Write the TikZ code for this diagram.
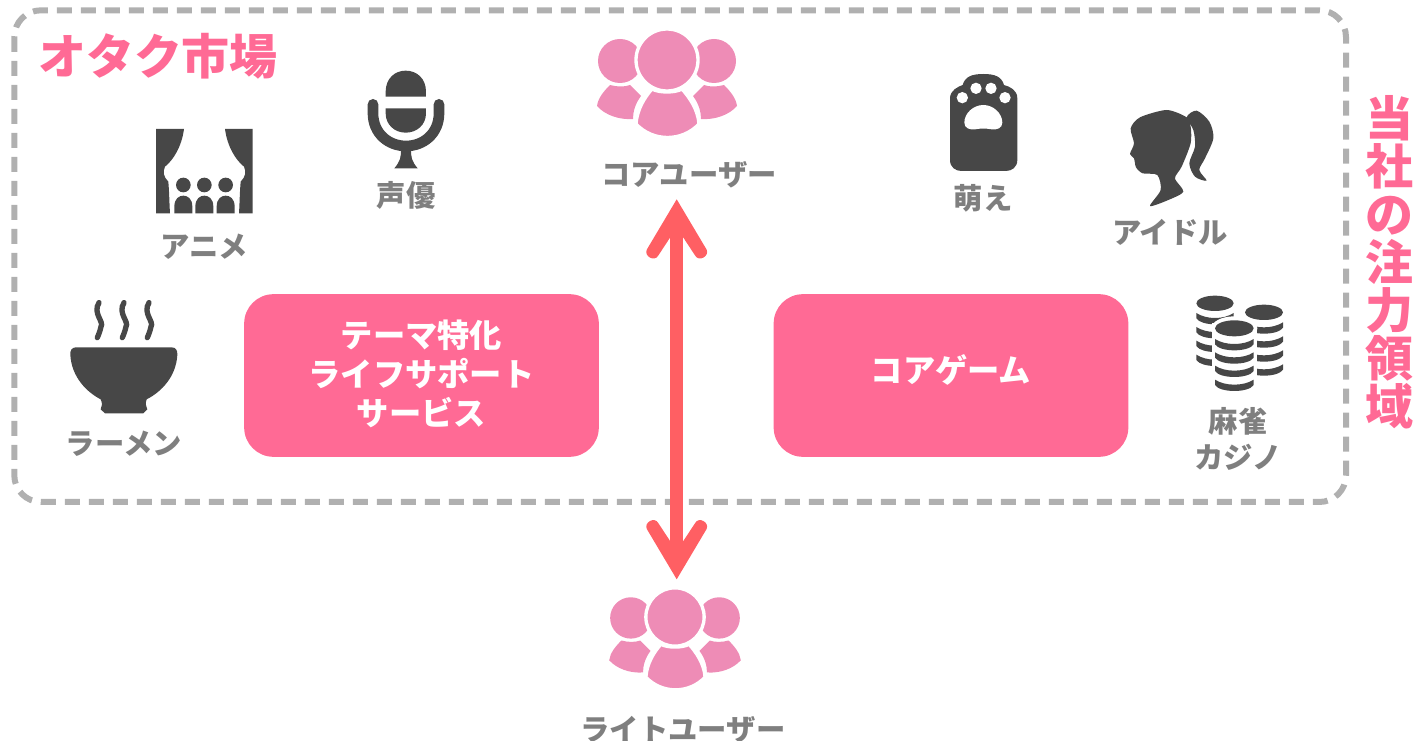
\documentclass[tikz,border=0pt]{standalone}
\usepackage{fontspec}
\setmainfont{Noto Sans CJK JP}
\definecolor{brandpink}{HTML}{FF6A95}
\definecolor{userpink}{HTML}{EE8CB6}
\definecolor{icondark}{HTML}{474747}
\definecolor{labelgray}{HTML}{7F7F7F}
\definecolor{dashgray}{HTML}{B0B0B0}
\definecolor{arrowred}{HTML}{FF5F63}
\tikzset{
  lbl/.style={text=labelgray,font=\fontsize{22pt}{27pt}\selectfont\bfseries,inner sep=0pt,align=center,yshift=-1pt},
  title/.style={text=brandpink,font=\fontsize{36pt}{36pt}\selectfont\bfseries,inner sep=0pt,align=center},
  service/.style={fill=brandpink,rounded corners=22pt,minimum width=266pt,minimum height=122pt,inner sep=0pt,align=center,text=white,font=\fontsize{24.2pt}{29pt}\selectfont\bfseries},
  icon/.style={fill=icondark,draw=none},
  upart/.style={fill=userpink,draw=none},
  halo/.style={fill=userpink,draw=white,line width=2.5pt},
  users/.pic={
    \path[upart] (-47,1) circle (22);
    \path[upart] (47,1) circle (22);
    \path[upart] (-57,25) .. controls (-50,27) and (-42,27) .. (-37,25) -- (-26,36) .. controls (-32,44) and (-34,52) .. (-34,59) .. controls (-48,60) and (-62,55) .. (-70,46) .. controls (-69,38) and (-63,31) .. (-57,25) -- cycle;
    \path[upart] (57,25) .. controls (50,27) and (42,27) .. (37,25) -- (26,36) .. controls (32,44) and (34,52) .. (34,59) .. controls (48,60) and (62,55) .. (70,46) .. controls (69,38) and (63,31) .. (57,25) -- cycle;
    \path[halo] (-31,64) .. controls (-30,50) and (-23,38) .. (-15,29) .. controls (-8,33) and (8,33) .. (15,29) .. controls (23,38) and (31,50) .. (32,64) .. controls (15,82) and (-14,82) .. (-31,64) -- cycle;
    \path[halo] (0,0) circle (31);
  },
  arrowhead/.pic={
    \path[fill=arrowred] (0,0) -- (-29.9,50.3) .. controls (-33,57) and (-22,63) .. (-18.4,56.2) -- (-6.7,38.4) -- (6.7,38.4) -- (18.4,56.2) .. controls (22,63) and (33,57) .. (29.9,50.3) -- cycle;
  }
}
\begin{document}
\begin{tikzpicture}[x=0.75pt,y=-0.75pt]
\useasboundingbox (0,0) rectangle (1415,741);
% market frame
\draw[dashgray,line width=4.5pt,dash pattern=on 11.25pt off 6.75pt,rounded corners=20pt] (14.3,10.3) rectangle (1346,502);
\node[title] (market) at (158,56.5) {オタク市場};
\node[title] (focus) at (1389,262) {当\\社\\の\\注\\力\\領\\域};
% service boxes
\node[service] (life) at (421.5,375.5) {テーマ特化\\ライフサポート\\サービス\rule[-4pt]{0pt}{0pt}};
\node[service] (game) at (951,375.5) {コアゲーム\rule[-10pt]{0pt}{0pt}};
% labels
\node[lbl] (lanime) at (204,245) {アニメ};
\node[lbl] (lvoice) at (406,194) {声優};
\node[lbl] (lcore) at (689,173) {コアユーザー};
\node[lbl] (lmoe) at (983,197) {萌え};
\node[lbl] (lidol) at (1170,231) {アイドル};
\node[lbl] (lramen) at (124,442) {ラーメン};
\node[lbl] (lgamble) at (1238,438) {麻雀\\カジノ};
\node[lbl] (llight) at (683,728) {ライトユーザー};
% users
\pic at (667,60) {users};
\pic[scale=0.94] at (675,617) {users};
% arrow
\coordinate (arrowtop) at (676.7,199.3);
\coordinate (arrowbot) at (676.7,579.3);
\draw[arrowred,line width=10pt,shorten <=18pt,shorten >=18pt] (arrowtop) -- (arrowbot);
\pic at (arrowtop) {arrowhead};
\pic[yscale=-1] at (arrowbot) {arrowhead};
% curtain icon
\begin{scope}[shift={(130,50)},scale=1/3]
\path[icon] (78,237) -- (162,237) .. controls (155,290) and (130,330) .. (105,350) .. controls (98,365) and (100,380) .. (115,395) .. controls (118,430) and (118,460) .. (120,490) -- (78,490) -- cycle;
\path[icon] (368,237) -- (285,237) .. controls (292,290) and (317,330) .. (342,350) .. controls (349,365) and (347,380) .. (332,395) .. controls (329,430) and (329,460) .. (327,490) -- (368,490) -- cycle;
\foreach \px in {160,223,287}{
  \path[icon] (\px,405) circle (22);
  \path[icon] (\px-27,490) -- (\px-27,470) .. controls (\px-27,445) and (\px-12,437) .. (\px,437) .. controls (\px+12,437) and (\px+27,445) .. (\px+27,470) -- (\px+27,490) -- cycle;
}
% microphone
\path[icon] (767,140) -- (767,125) .. controls (767,85) and (795,62) .. (827,62) .. controls (860,62) and (888,85) .. (888,125) -- (888,140) -- cycle;
\path[icon] (767,175) -- (888,175) -- (888,190) .. controls (888,225) and (860,248) .. (827,248) .. controls (795,248) and (767,225) .. (767,190) -- cycle;
\draw[icondark,line width=8pt,line cap=round] (729,163) -- (729,190) .. controls (729,250) and (775,288) .. (828,288) .. controls (881,288) and (927,250) .. (927,190) -- (927,163);
\path[icon] (812,295) .. controls (815,320) and (810,335) .. (793,355) -- (863,355) .. controls (846,335) and (841,320) .. (844,295) -- cycle;
\end{scope}
% paw
\begin{scope}[shift={(920,60)},scale=1/3]
\path[icon] (90,300) -- (90,115) .. controls (90,90) and (115,80) .. (128,75) .. controls (135,50) and (155,42) .. (190,42) .. controls (225,42) and (245,50) .. (252,75) .. controls (270,80) and (292,90) .. (292,115) -- (292,300) .. controls (292,322) and (275,333) .. (258,333) -- (124,333) .. controls (107,333) and (90,322) .. (90,300) -- cycle;
\path[fill=white] (127,113) circle (17) (168,85) circle (17) (213,85) circle (17) (255,113) circle (17);
\path[fill=white] (133,188) .. controls (133,160) and (160,135) .. (190,135) .. controls (220,135) and (247,160) .. (247,188) .. controls (247,205) and (230,210) .. (215,208) .. controls (200,205) and (180,205) .. (165,208) .. controls (150,210) and (133,205) .. (133,188) -- cycle;
\end{scope}
% silhouette
\begin{scope}[shift={(920,60)},scale=1/3]
\path[icon] plot[smooth cycle,tension=.45] coordinates {(690,438) (722,390) (712,345) (668,340) (648,322) (642,295) (630,282) (642,250) (632,205) (660,172) (740,150) (800,172) (812,200) (812,250) (785,320) (765,355) (790,395) (745,420)};
\path[icon] plot[smooth cycle,tension=.5] coordinates {(800,172) (830,152) (868,185) (880,235) (855,295) (838,330) (860,362) (825,350) (808,310) (825,260) (820,210)};
\end{scope}
% bowl
\begin{scope}[shift={(50,290)},scale=1/3]
\path[icon] (78,172) -- (365,172) .. controls (378,172) and (383,182) .. (382,195) .. controls (378,260) and (335,305) .. (290,328) .. controls (285,340) and (288,350) .. (292,358) -- (280,370) -- (165,370) -- (152,358) .. controls (156,350) and (158,340) .. (152,328) .. controls (108,305) and (65,260) .. (61,195) .. controls (60,182) and (65,172) .. (78,172) -- cycle;
\foreach \sx in {145,220,295}{
  \draw[icondark,line width=4pt,line cap=round] (\sx+2,38) .. controls (\sx-18,70) and (\sx+18,95) .. (\sx+8,110) .. controls (\sx+5,125) and (\sx,135) .. (\sx-3,143);
}
\end{scope}
% coins
\begin{scope}[shift={(1180,285)},scale=1/3]
\def\coinband#1#2#3{\path[icon] (#1-#3,#2-16) .. controls (#1-#3+30,#2+4) and (#1+#3-30,#2+4) .. (#1+#3,#2-16) -- (#1+#3,#2) .. controls (#1+#3-15,#2+24) and (#1-#3+15,#2+24) .. (#1-#3,#2) -- cycle;}
\path[icon] (105,55) ellipse [x radius=56,y radius=23];
\coinband{105}{100}{56}\coinband{105}{142}{56}\coinband{105}{183}{56}\coinband{105}{225}{56}
\path[icon] (252,82) ellipse [x radius=57,y radius=23];
\coinband{252}{128}{57}\coinband{252}{170}{57}\coinband{252}{212}{57}\coinband{252}{254}{57}
\path[fill=white] (95,115) rectangle (232,330);
\path[fill=white] (163,130) ellipse [x radius=69,y radius=36];
\path[icon] (163,130) ellipse [x radius=58,y radius=24];
\coinband{163}{178}{58}\coinband{163}{218}{58}\coinband{163}{258}{58}\coinband{163}{300}{58}
\end{scope}
\end{tikzpicture}
\end{document}
